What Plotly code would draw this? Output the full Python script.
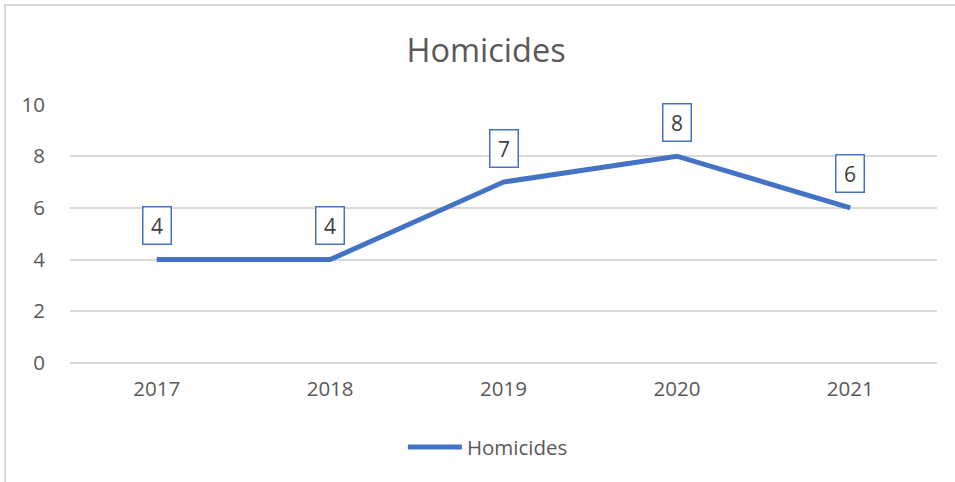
import plotly.graph_objects as go

# data
years = ['2017', '2018', '2019', '2020', '2021']
homicides = [4, 4, 7, 8, 6]
y_ticks = [0, 2, 4, 6, 8, 10]

line_blue = '#4472C4'
text_grey = '#595959'
grid_grey = '#D9D9D9'
font_name = 'Open Sans'

fig = go.Figure()
fig.add_trace(go.Scatter(x=years, y=homicides, name='Homicides',
                         mode='lines', line=dict(color=line_blue, width=5),
                         hoverinfo='x+y'))

# boxed data labels above every point (category index as x)
for i, val in enumerate(homicides):
    fig.add_annotation(x=i, y=val, text=str(val), showarrow=False,
                       yshift=34, width=25, height=34, borderpad=1,
                       bordercolor=line_blue, borderwidth=1.5,
                       bgcolor='white',
                       font=dict(family=font_name, size=21, color='#404040'))

# outer chart frame
fig.add_shape(type='rect', xref='paper', yref='paper',
              x0=-0.075, x1=1.03, y0=-0.5, y1=1.382,
              line=dict(color=grid_grey, width=2), layer='below')

fig.update_layout(
    width=955, height=482,
    margin=dict(l=70, r=18, t=104, b=119),
    paper_bgcolor='white', plot_bgcolor='white',
    font=dict(family=font_name, color=text_grey, size=21),
    title=dict(text='Homicides', x=0.509, xanchor='center', y=0.895, yanchor='middle',
               font=dict(family=font_name, size=32.5, color=text_grey)),
    xaxis=dict(type='category', range=[-0.5, 4.5], showgrid=False, showline=False,
               ticks='', ticklabelstandoff=11, tickfont=dict(size=20.5, color=text_grey)),
    yaxis=dict(range=[0, 10.02], tickvals=y_ticks, showgrid=True, gridcolor=grid_grey,
               gridwidth=1.5, zeroline=True, zerolinecolor=grid_grey, zerolinewidth=1.5,
               showline=False, ticks='', ticklabelstandoff=24,
               tickfont=dict(size=20.5, color=text_grey)),
    showlegend=True,
    legend=dict(orientation='h', x=0.482, xanchor='center', y=-0.325, yanchor='middle',
                font=dict(size=20.5, color=text_grey), itemwidth=54),
)

fig.write_html('out.html', config={'displayModeBar': False},
               post_script="document.body.style.margin='0';")
